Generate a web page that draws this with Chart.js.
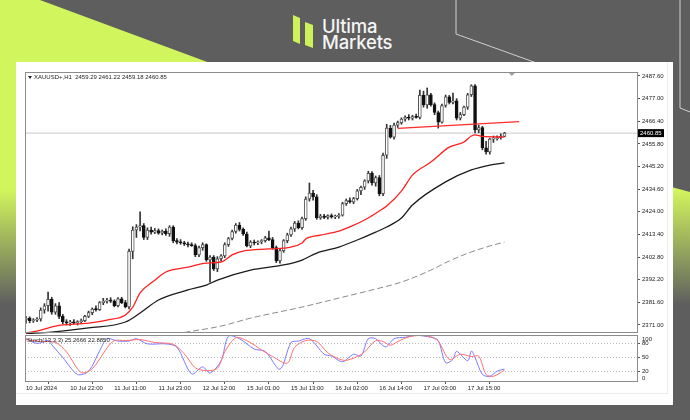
<!DOCTYPE html>
<html>
<head>
<meta charset="utf-8">
<script src="https://cdn.jsdelivr.net/npm/chart.js@4.4.1/dist/chart.umd.min.js"></script>
<style>
  html, body { margin: 0; padding: 0; }
  body { width: 690px; height: 420px; position: relative; overflow: hidden; background: #5e5e5e; font-family: Inter, "Noto Sans", sans-serif; }
  #lime { position: absolute; left: 0; top: 0; width: 690px; height: 420px;
    clip-path: polygon(0 0, 40px 0, 210px 63px, 690px 192px, 690px 420px, 0 420px);
    background: linear-gradient(to bottom, #d1f55d 0px, #d1f55d 190px, #5e5e5e 305px); }
  #deco { position: absolute; left: 0; top: 0; }
  #card { position: absolute; left: 16px; top: 62px; width: 657px; height: 343px; background: #fff; }
  #inner { position: absolute; left: 16px; top: 62px; width: 651px; height: 331px; border-right: 1px solid #ececec; border-bottom: 1px solid #ececec; }
  #chart { position: absolute; left: 16px; top: 62px; }
  .brand { position: absolute; left: 322px; color: #f4f4f4; font-size: 18.5px; line-height: 16.5px; font-weight: 500; letter-spacing: -0.2px; }
</style>
</head>
<body>
<div id="lime"></div>
<svg id="deco" width="690" height="420">
  <polyline points="456,0 456,34 545,66" fill="none" stroke="#cfcfcf" stroke-width="1"/>
  <polyline points="680,0 680,108 690,112" fill="none" stroke="#cfcfcf" stroke-width="1"/>
  <polygon points="293,15 300,18 300,44 293,41" fill="#cdf25a"/>
  <polygon points="305,22 313,25 313,48 305,45" fill="#cdf25a"/>
</svg>
<div class="brand" style="top:17.5px">Ultima</div>
<div class="brand" style="top:34px">Markets</div>
<div id="card"></div>
<div id="inner"></div>
<canvas id="chart" width="657" height="343"></canvas>
<script>
// hourly XAUUSD bars, index 0 = 10 Jul 2024 10:00
const openP = [2373.5,2374.2,2373.0,2373.3,2373.8,2378.0,2380.0,2383.0,2377.0,2380.0,
  2375.0,2372.4,2372.0,2372.5,2372.0,2372.6,2373.0,2375.0,2376.8,2378.5,
  2378.2,2381.5,2382.2,2382.6,2382.2,2380.0,2383.2,2381.5,2379.5,2405.5,
  2415.5,2416.8,2417.5,2412.0,2415.5,2414.5,2415.2,2414.0,2415.0,2413.8,
  2416.8,2410.5,2409.8,2409.5,2409.0,2408.5,2408.2,2403.8,2407.2,2408.6,
  2401.5,2402.8,2397.2,2402.0,2403.4,2408.6,2411.5,2414.8,2417.8,2415.8,
  2413.6,2408.0,2409.8,2409.4,2410.0,2410.5,2411.8,2411.0,2407.2,2401.0,
  2405.8,2410.5,2413.2,2416.0,2418.7,2416.6,2420.8,2430.0,2432.8,2431.0,
  2421.2,2422.0,2421.4,2422.2,2421.6,2421.8,2422.4,2427.8,2429.2,2428.6,
  2430.2,2433.8,2435.5,2438.5,2442.0,2437.5,2440.0,2432.5,2450.5,2463.2,
  2459.0,2464.6,2465.8,2467.4,2468.4,2467.8,2468.6,2468.2,2478.5,2474.0,
  2478.8,2474.2,2470.5,2466.0,2473.8,2477.8,2475.2,2476.0,2467.9,2469.5,
  2473.0,2478.8,2483.0,2462.3,2463.4,2454.0,2452.0,2458.0,2458.2,2458.8,2459.29];
const highP = [2375.0,2374.8,2374.0,2374.5,2379.0,2381.0,2386.4,2384.0,2381.0,2381.5,
  2376.0,2373.5,2373.2,2373.5,2373.0,2373.8,2375.5,2377.5,2379.0,2380.0,
  2382.0,2383.5,2383.5,2383.8,2382.8,2383.8,2384.0,2382.5,2406.5,2417.0,
  2418.0,2424.0,2418.5,2416.5,2416.8,2416.2,2416.0,2415.5,2416.0,2417.5,
  2417.5,2411.5,2411.0,2410.2,2409.8,2409.5,2409.0,2408.0,2409.5,2409.0,
  2403.5,2403.5,2403.0,2404.0,2409.5,2412.0,2415.5,2418.5,2419.0,2416.5,
  2414.5,2410.5,2410.8,2410.4,2411.0,2412.5,2415.0,2412.0,2408.0,2406.5,
  2411.0,2414.0,2416.8,2419.5,2419.8,2421.5,2431.0,2437.5,2434.0,2432.0,
  2422.8,2422.8,2422.6,2423.0,2422.5,2423.2,2428.5,2430.0,2430.5,2430.8,
  2434.5,2436.0,2439.0,2443.0,2442.8,2440.8,2441.0,2451.5,2465.0,2464.5,
  2465.5,2466.5,2468.0,2469.0,2469.5,2469.2,2469.8,2481.0,2480.5,2482.0,
  2479.5,2475.0,2471.2,2474.5,2478.7,2478.5,2479.6,2477.0,2470.5,2473.5,
  2479.5,2483.5,2483.6,2464.5,2464.0,2457.0,2458.5,2459.5,2459.6,2460.5,2461.22];
const lowP = [2371.8,2372.0,2372.2,2372.5,2372.8,2376.5,2377.5,2376.0,2376.0,2374.0,
  2371.5,2371.0,2370.8,2371.5,2371.0,2371.8,2372.5,2374.5,2375.8,2377.5,
  2377.8,2380.5,2381.2,2381.5,2379.5,2379.5,2381.0,2379.0,2378.5,2402.0,
  2412.0,2415.0,2411.0,2411.0,2413.5,2413.8,2413.5,2413.2,2413.0,2412.5,
  2409.5,2409.0,2408.8,2408.2,2407.5,2407.8,2403.0,2403.0,2406.0,2400.8,
  2391.1,2396.5,2396.0,2401.0,2402.5,2407.8,2410.8,2414.0,2415.0,2413.0,
  2407.5,2407.2,2408.5,2408.6,2409.0,2409.8,2410.5,2406.5,2400.2,2400.0,
  2405.0,2409.5,2412.5,2414.8,2416.0,2415.8,2420.0,2429.0,2429.5,2420.5,
  2420.5,2420.8,2420.6,2421.0,2420.8,2421.0,2422.0,2427.0,2428.0,2427.8,
  2429.5,2432.0,2434.5,2437.5,2436.5,2436.0,2431.5,2431.5,2449.0,2458.5,
  2458.0,2463.5,2465.0,2466.5,2467.0,2467.0,2467.8,2467.5,2473.0,2472.5,
  2473.5,2469.5,2463.2,2465.5,2473.0,2474.5,2474.5,2467.0,2467.0,2469.0,
  2472.0,2478.0,2461.0,2461.0,2453.0,2451.0,2451.0,2456.5,2457.5,2458.0,2459.18];
const closeP = [2374.2,2373.0,2373.3,2373.8,2378.0,2380.0,2383.0,2377.0,2380.0,2375.0,
  2372.4,2372.0,2372.5,2372.0,2372.6,2373.0,2375.0,2376.8,2378.5,2378.2,
  2381.5,2382.2,2382.6,2382.2,2380.0,2383.2,2381.5,2379.5,2405.5,2415.5,
  2416.8,2417.5,2412.0,2415.5,2414.5,2415.2,2414.0,2415.0,2413.8,2416.8,
  2410.5,2409.8,2409.5,2409.0,2408.5,2408.2,2403.8,2407.2,2408.6,2401.5,
  2402.8,2397.2,2402.0,2403.4,2408.6,2411.5,2414.8,2417.8,2415.8,2413.6,
  2408.0,2409.8,2409.4,2410.0,2410.5,2411.8,2411.0,2407.2,2401.0,2405.8,
  2410.5,2413.2,2416.0,2418.7,2416.6,2420.8,2430.0,2432.8,2431.0,2421.2,
  2422.0,2421.4,2422.2,2421.6,2421.8,2422.4,2427.8,2429.2,2428.6,2430.2,
  2433.8,2435.5,2438.5,2442.0,2437.5,2440.0,2432.5,2450.5,2463.2,2459.0,
  2464.6,2465.8,2467.4,2468.4,2467.8,2468.6,2468.2,2478.5,2474.0,2478.8,
  2474.2,2470.5,2466.0,2473.8,2477.8,2475.2,2476.0,2467.9,2469.5,2473.0,
  2478.8,2483.0,2462.3,2463.4,2454.0,2452.0,2458.0,2458.2,2458.8,2459.29,2460.85];

// moving averages, read at a few bar positions
const redIdx = [0,4,8,17,22,27,29,31,35,38,44,49,53,56,59,66,72,75,76,80,85,88,93,96,98,102,105,110,115,119,121,122,124,130];
const redVal = [2367.2,2368.6,2370.5,2371.9,2373.3,2375.7,2379.4,2386.0,2392.0,2395.8,2398.1,2400.0,2400.5,2403.8,2405.6,2406.6,2407.5,2409.4,2411.3,2413.1,2415.0,2416.9,2421.1,2424.4,2426.7,2433.7,2441.2,2447.3,2454.3,2456.7,2459.5,2460.0,2459.3,2459.0];
const blackIdx = [0,7,17,27,31,36,44,49,52,61,70,75,79,85,90,95,98,102,105,114,121,126,130];
const blackVal = [2367.0,2367.7,2369.6,2372.4,2376.6,2382.7,2387.4,2389.7,2392.0,2396.7,2399.1,2401.4,2404.7,2407.5,2410.8,2414.5,2416.9,2421.1,2427.2,2438.0,2443.6,2445.9,2446.9];
const grayIdx = [43,53,61,75,85,94,102,110,115,121,126,130];
const grayVal = [2367.5,2370.5,2374.2,2379.4,2383.6,2387.4,2391.1,2396.7,2401.0,2405.2,2408.0,2409.8];
const trendIdx = [101,134];
const trendVal = [2463.1,2466.2];
const lastPrice = 2460.85;

// stochastic (13,3,3)
const kIdx = [0,3,6,7,10,14,17,20,22,25,28,30,33,38,41,45,48,50,53,55,58,62,65,69,72,74,77,81,83,86,89,91,93,95,97,98,100,103,106,110,112,114,116,117,120,121,122,124,126,128,130];
const kVal = [90,80,86,77,50,14,21,64,90,85,85,90,79,79,72,15,30,17,43,95,90,68,63,25,82,85,90,57,53,41,57,53,90,90,75,73,90,93,97,93,86,39,46,63,43,64,50,14,10,21,25.2666];
const dIdx = [0,4,8,11,15,18,22,24,27,31,35,40,43,46,49,52,54,57,60,64,67,71,73,76,79,82,85,87,90,92,95,97,99,101,104,107,110,112,115,118,121,123,125,127,130];
const dVal = [88,84,82,62,18,26,70,86,86,88,82,78,58,28,22,27,62,92,86,66,52,38,72,86,84,60,47,44,52,62,86,84,76,84,94,97,94,85,46,57,52,53,14,10,22.885];

const xTickIdx = [0,12,24,36,48,60,72,84,96,108,120];
const xTickLabels = ['10 Jul 2024','10 Jul 22:00','11 Jul 11:00','11 Jul 23:00','12 Jul 12:00','15 Jul 01:00','15 Jul 13:00','16 Jul 02:00','16 Jul 14:00','17 Jul 03:00','17 Jul 15:00'];
const yTicks = [2371.00,2381.60,2392.20,2402.80,2413.40,2424.00,2434.60,2445.20,2455.80,2466.40,2477.00,2487.60];
const stochTicks = [0,20,50,80,100];

const FONT = '"Liberation Sans", Arial, sans-serif';
const pts = (xs, ys) => xs.map((x, k) => ({x: x, y: ys[k]}));
const isUp = (k) => closeP[k] >= openP[k];

var wicks = openP.map((o, k) => ({x: k, y: [lowP[k], highP[k]]}));
var bodies = openP.map((o, k) => ({x: k, y: [o, closeP[k]]}));

var panels = {
    id: 'panels',
    afterDatasetsDraw: function(chart) {
        var ctx = chart.ctx, a = chart.chartArea;
        var y = chart.scales.y, y2 = chart.scales.y2, x = chart.scales.x;
        ctx.save();
        ctx.strokeStyle = '#8c8c8c';
        ctx.lineWidth = 1;
        ctx.strokeRect(a.left + 0.5, y.top + 0.5, a.right - a.left, y.bottom - y.top - 2);
        ctx.strokeRect(a.left + 0.5, y2.top + 1.5, a.right - a.left, y2.bottom - y2.top - 1);

        // chart shift marker
        var sx = x.getPixelForValue(132);
        ctx.fillStyle = '#a0a0a0';
        ctx.beginPath();
        ctx.moveTo(sx - 3, y.top + 1); ctx.lineTo(sx + 3, y.top + 1); ctx.lineTo(sx, y.top + 4);
        ctx.fill();

        ctx.font = '6px ' + FONT;
        ctx.textBaseline = 'middle';
        ctx.fillStyle = '#222';
        ctx.beginPath();
        ctx.moveTo(a.left + 3, y.top + 4); ctx.lineTo(a.left + 7, y.top + 4); ctx.lineTo(a.left + 5, y.top + 7);
        ctx.fill();
        ctx.fillText('XAUUSD+,H1  2459.29 2461.22 2459.18 2460.85', a.left + 9, y.top + 5.5);
        ctx.fillText('Stoch(13,3,3) 25.2666 22.8850', a.left + 2, y2.top + 6);

        // stochastic end labels sit inside the pane, as in the terminal
        ctx.fillText('100', a.right + 5, y2.top + 5);
        ctx.fillText('0', a.right + 5, y2.bottom - 3);

        // last price tag
        var py = y.getPixelForValue(lastPrice);
        ctx.fillStyle = '#000';
        ctx.fillRect(a.right + 1, py - 4, 26, 8);
        ctx.fillStyle = '#fff';
        ctx.fillText(lastPrice.toFixed(2), a.right + 3, py + 0.5);
        ctx.restore();
    }
};

var ctx = document.getElementById('chart').getContext('2d');
var chart = new Chart(ctx, {
    type: 'bar',
    data: {
        datasets: [
            {
                type: 'line', label: 'last', yAxisID: 'y',
                data: [{x: -0.3, y: lastPrice}, {x: 166, y: lastPrice}],
                borderColor: '#c9c9c9', borderWidth: 1, pointRadius: 0, order: 9
            },
            {
                label: 'wick', yAxisID: 'y', data: wicks, grouped: false,
                barThickness: 1, backgroundColor: '#333', borderWidth: 0, order: 8
            },
            {
                label: 'body', yAxisID: 'y', data: bodies, grouped: false,
                barThickness: 3, minBarLength: 1, borderSkipped: false, borderWidth: 1,
                borderColor: (c) => isUp(c.dataIndex) ? '#555' : '#111',
                backgroundColor: (c) => isUp(c.dataIndex) ? '#fff' : '#111',
                order: 7
            },
            {
                type: 'line', label: 'ma slow', yAxisID: 'y', data: pts(grayIdx, grayVal),
                borderColor: '#8a8a8a', borderWidth: 1, borderDash: [6, 3], pointRadius: 0,
                cubicInterpolationMode: 'monotone', order: 6
            },
            {
                type: 'line', label: 'ma mid', yAxisID: 'y', data: pts(blackIdx, blackVal),
                borderColor: '#1a1a1a', borderWidth: 1.3, pointRadius: 0,
                cubicInterpolationMode: 'monotone', order: 5
            },
            {
                type: 'line', label: 'ma fast', yAxisID: 'y', data: pts(redIdx, redVal),
                borderColor: '#ff1f1f', borderWidth: 1.3, pointRadius: 0,
                cubicInterpolationMode: 'monotone', order: 4
            },
            {
                type: 'line', label: 'trend', yAxisID: 'y', data: pts(trendIdx, trendVal),
                borderColor: '#ff2a2a', borderWidth: 1.3, pointRadius: 0, order: 3
            },
            {
                type: 'line', label: '%K', yAxisID: 'y2', data: pts(kIdx, kVal),
                borderColor: '#7878ff', borderWidth: 1, pointRadius: 0, tension: 0.3, order: 2
            },
            {
                type: 'line', label: '%D', yAxisID: 'y2', data: pts(dIdx, dVal),
                borderColor: '#ff7070', borderWidth: 1, pointRadius: 0, tension: 0.3, order: 1
            }
        ]
    },
    options: {
        responsive: false,
        animation: false,
        devicePixelRatio: 1,
        layout: { padding: { left: 9, top: 10, right: 0, bottom: 10 } },
        plugins: { legend: { display: false }, tooltip: { enabled: false } },
        scales: {
            x: {
                type: 'linear', min: -0.27, max: 166, offset: false,
                afterBuildTicks: (s) => { s.ticks = xTickIdx.map(v => ({value: v})); },
                afterFit: (s) => { s.height = 14; },
                ticks: {
                    autoSkip: false, maxRotation: 0, align: 'start', padding: 1,
                    color: '#222', font: { family: FONT, size: 6 },
                    callback: (v) => xTickLabels[xTickIdx.indexOf(v)]
                },
                grid: { drawOnChartArea: false, tickLength: 3, color: '#555' },
                border: { display: false }
            },
            y: {
                type: 'linear', position: 'right', stack: 'panes', stackWeight: 262,
                min: 2366.78, max: 2489.47,
                afterBuildTicks: (s) => { s.ticks = yTicks.map(v => ({value: v})); },
                afterFit: (s) => { s.width = 36; },
                ticks: {
                    autoSkip: false, padding: 2, color: '#222', font: { family: FONT, size: 6 },
                    callback: (v) => v.toFixed(2)
                },
                grid: { drawOnChartArea: false, tickLength: 3, color: '#555' },
                border: { display: false }
            },
            y2: {
                type: 'linear', position: 'right', stack: 'panes', stackWeight: 47,
                min: 0, max: 100,
                afterBuildTicks: (s) => { s.ticks = stochTicks.map(v => ({value: v})); },
                afterFit: (s) => { s.width = 36; },
                ticks: {
                    autoSkip: false, padding: 2, color: '#222', font: { family: FONT, size: 6 },
                    callback: (v) => (v > 0 && v < 100) ? String(v) : ''
                },
                grid: {
                    drawOnChartArea: true, tickLength: 3,
                    tickColor: (c) => (c.tick && c.tick.value > 0 && c.tick.value < 100) ? '#555' : 'rgba(0,0,0,0)',
                    color: (c) => (c.tick && c.tick.value > 0 && c.tick.value < 100) ? '#bdbdbd' : 'rgba(0,0,0,0)'
                },
                border: { display: false, dash: [1, 2] }
            }
        }
    },
    plugins: [panels]
});
</script>
</body>
</html>
